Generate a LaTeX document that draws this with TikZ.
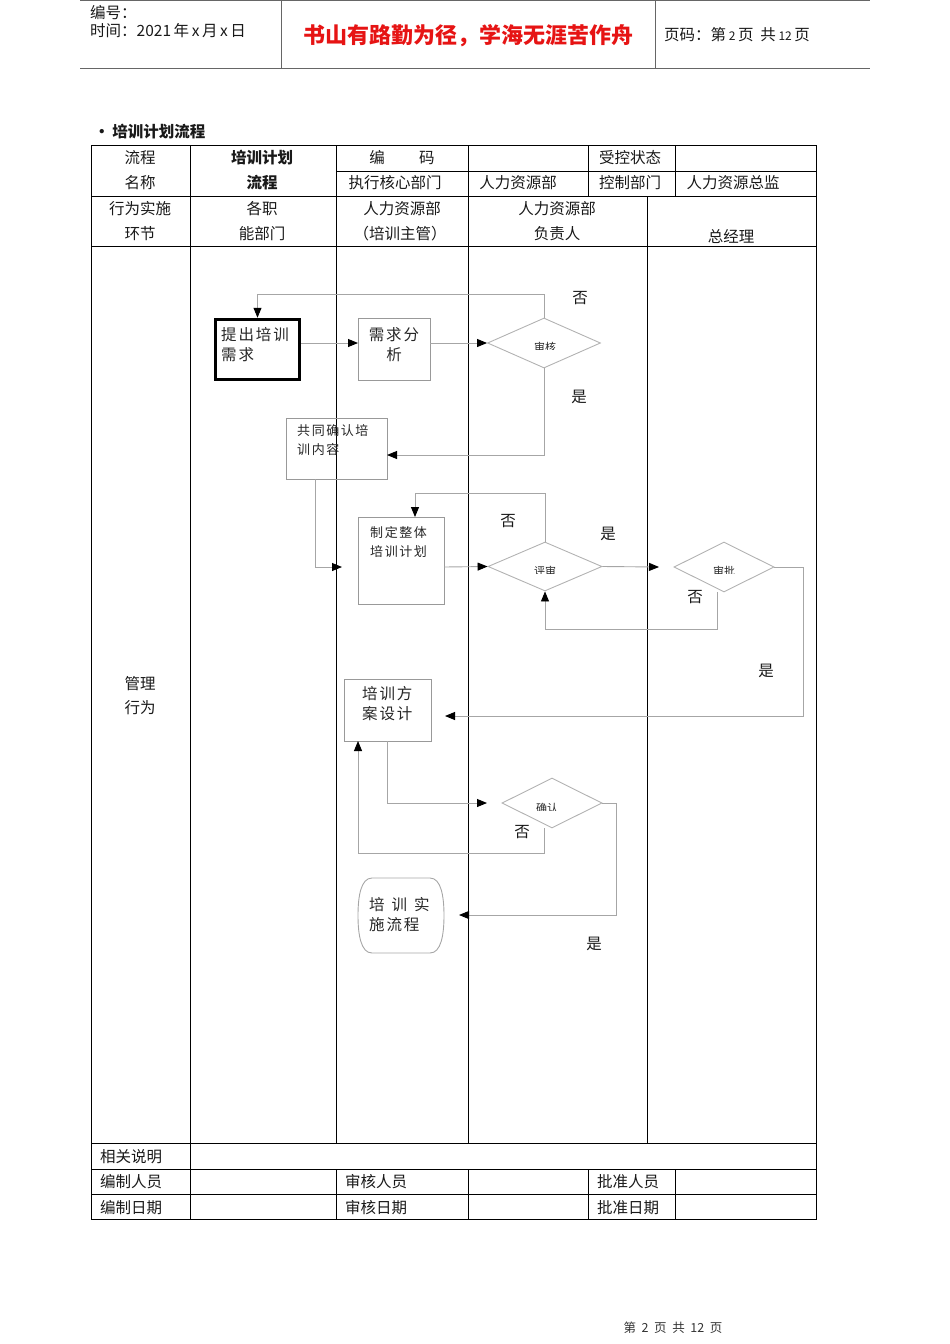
\documentclass[tikz,border=0pt]{standalone}
\usepackage{fontspec}
\setmainfont{Noto Sans CJK SC}
\newfontfamily\cjksp{Noto Sans CJK SC}[LetterSpace=12]
\usetikzlibrary{arrows.meta,shapes.geometric}
\tikzset{
  tline/.style={draw=black, line width=0.9pt},
  hline/.style={draw=black!60, line width=1pt},
  conn/.style={draw=black!35, line width=0.9pt},
  arr/.style={conn, -{Triangle[length=10pt,width=8pt,color=black]}},
  gbox/.style={draw=black!40, line width=0.9pt, inner sep=0, rectangle},
  dia/.style={diamond, draw=black!30, line width=0.9pt, inner sep=0},
  txt/.style={inner sep=0, font=\fontsize{15.5}{19}\selectfont, text=black!90},
  ltxt/.style={txt, anchor=west},
  btxt/.style={txt, font=\fontsize{15.5}{19}\selectfont\bfseries},
  stxt/.style={inner sep=0, font=\fontsize{13}{19}\selectfont\cjksp, text=black!85, align=left, anchor=north west},
  mtxt/.style={inner sep=0, font=\fontsize{15.5}{20}\selectfont\cjksp, text=black!85},
  dtxt/.style={inner sep=0, font=\fontsize{11}{12}\selectfont, text=black!85},
}
\begin{document}
\begin{tikzpicture}[x=1pt,y=-1pt]
\useasboundingbox (0,0) rectangle (950,1344);
% ---------- page header ----------
\draw[hline] (80,0.5) -- (870,0.5);
\draw[hline] (80,68) -- (870,68);
\draw[hline] (281,0) -- (281,68);
\draw[hline] (655,0) -- (655,68);
\node[ltxt] (h1) at (90,13) {编号：};
\node[ltxt] (h2) at (90,31) {时间：2021\,年\,x\,月\,x\,日};
\node[txt, font=\fontsize{22}{24}\selectfont\bfseries, text={rgb,255:red,230;green,20;blue,20}] (h3) at (468,36) {书山有路勤为径，学海无涯苦作舟};
\node[ltxt] (h4) at (664,35) {页码：第\,{\fontsize{12}{14}\selectfont 2}\,页\ \ 共\,{\fontsize{12}{14}\selectfont 12}\,页};
% ---------- title ----------
\node[ltxt, font=\fontsize{15.5}{19}\selectfont\bfseries] (title) at (94,132) {\textbullet\,培训计划流程};
% ---------- table frame ----------
\draw[tline] (91,145) rectangle (816,1219);
\draw[tline] (336,171) -- (816,171);
\draw[tline] (91,196) -- (816,196);
\draw[tline] (91,246) -- (816,246);
\draw[tline] (91,1143) -- (816,1143);
\draw[tline] (91,1169) -- (816,1169);
\draw[tline] (91,1194) -- (816,1194);
\draw[tline] (190,145) -- (190,1219);
\draw[tline] (336,145) -- (336,1143);
\draw[tline] (468,145) -- (468,1143);
\draw[tline] (588,145) -- (588,196);
\draw[tline] (675,145) -- (675,196);
\draw[tline] (647,196) -- (647,1143);
\draw[tline] (336,1169) -- (336,1219);
\draw[tline] (468,1169) -- (468,1219);
\draw[tline] (588,1169) -- (588,1219);
\draw[tline] (675,1169) -- (675,1219);
% ---------- table texts ----------
\node[txt] (t1) at (140,158) {流程};
\node[txt] (t2) at (140,183) {名称};
\node[btxt] (t3) at (262,158) {培训计划};
\node[btxt] (t4) at (262,183) {流程};
\node[txt] (t5) at (402,158) {编\hspace{2.2em}码};
\node[txt] (t6) at (630,158) {受控状态};
\node[txt] (t7) at (395,183) {执行核心部门};
\node[txt] (t8) at (518,183) {人力资源部};
\node[txt] (t9) at (630,183) {控制部门};
\node[txt] (t10) at (733,183) {人力资源总监};
\node[txt] (t11) at (140,209) {行为实施};
\node[txt] (t12) at (140,234) {环节};
\node[txt] (t13) at (262,209) {各职};
\node[txt] (t14) at (262,234) {能部门};
\node[txt] (t15) at (402,209) {人力资源部};
\node[txt] (t16) at (400,234) {（培训主管）};
\node[txt] (t17) at (557,209) {人力资源部};
\node[txt] (t18) at (557,234) {负责人};
\node[txt] (t19) at (731,237) {总经理};
\node[txt] (t20) at (140,684) {管理};
\node[txt] (t21) at (140,708) {行为};
\node[ltxt] (f1) at (100,1157) {相关说明};
\node[ltxt] (f2) at (100,1182) {编制人员};
\node[ltxt] (f3) at (100,1208) {编制日期};
\node[ltxt] (f4) at (345,1182) {审核人员};
\node[ltxt] (f5) at (345,1208) {审核日期};
\node[ltxt] (f6) at (597,1182) {批准人员};
\node[ltxt] (f7) at (597,1208) {批准日期};
% ---------- flow boxes ----------
\node[draw=black, line width=3.5pt, rectangle, inner sep=0, minimum width=84pt, minimum height=60pt] (b1) at (257.5,349.5) {};
\node[mtxt, anchor=north west, align=left] (b1t) at (221,327) {提出培训\\需求};
\node[gbox, minimum width=72pt, minimum height=62pt] (b2) at (394,349) {};
\node[mtxt, anchor=north, align=center] (b2t) at (394,327) {需求分\\析};
\node[gbox, minimum width=101pt, minimum height=61pt] (b3) at (336.5,448.5) {};
\node[stxt] (b3t) at (297,424) {共同确认培\\训内容};
\node[gbox, minimum width=86pt, minimum height=87pt] (b4) at (401,560.5) {};
\node[stxt] (b4t) at (370,526) {制定整体\\培训计划};
\node[gbox, minimum width=87pt, minimum height=62pt] (b5) at (387.5,710) {};
\node[mtxt, anchor=north west, align=left] (b5t) at (362,686) {培训方\\案设计};
\node[rectangle, inner sep=0, minimum width=86pt, minimum height=75pt] (b6) at (401,915.5) {};
\draw[draw=black!35, line width=0.9pt] (372,878) -- (430,878)
  .. controls (441,878) and (444,896) .. (444,915.5)
  .. controls (444,935) and (441,953) .. (430,953) -- (372,953)
  .. controls (361,953) and (358,935) .. (358,915.5)
  .. controls (358,896) and (361,878) .. (372,878) -- cycle;
\node[mtxt, anchor=north west, align=left] (b6t) at (369,897) {培\hspace{0.45em}训\hspace{0.45em}实\\施流程};
% ---------- diamonds ----------
\node[dia, minimum width=113pt, minimum height=50pt] (d1) at (544,343) {};
\node[dia, minimum width=114pt, minimum height=49pt] (d2) at (545,566.5) {};
\node[dia, minimum width=100pt, minimum height=50pt] (d3) at (724,567) {};
\node[dia, minimum width=100pt, minimum height=50pt] (d4) at (552,803) {};
\begin{scope}
\clip (515,330) rectangle (575,349);
\node[dtxt] (d1t) at (545,347.5) {审核};
\end{scope}
\begin{scope}
\clip (515,555) rectangle (575,573);
\node[dtxt] (d2t) at (545,571) {评审};
\end{scope}
\begin{scope}
\clip (695,555) rectangle (755,573);
\node[dtxt] (d3t) at (724,571) {审批};
\end{scope}
\begin{scope}
\clip (520,795) rectangle (580,810);
\node[dtxt] (d4t) at (547,808) {确认};
\end{scope}
% ---------- connector points ----------
\coordinate (p1) at (301,343);
\coordinate (p2) at (358,343);
\coordinate (p3) at (430,343);
\coordinate (p4) at (387,455);
\coordinate (p5) at (315,479);
\coordinate (p6) at (342,567);
\coordinate (p7) at (415,517);
\coordinate (p8) at (444,567);
\coordinate (p9) at (659,567);
\coordinate (p10) at (717,592);
\coordinate (p11) at (445,716);
\coordinate (p12) at (387,741);
\coordinate (p13) at (487,803);
\coordinate (p14) at (544,828);
\coordinate (p15) at (358,741);
\coordinate (p16) at (459,915);
\coordinate (q1) at (544,294);
\coordinate (q2) at (545,493);
\coordinate (q3) at (717,629);
\coordinate (q4) at (803,716);
\coordinate (q5) at (544,853);
\coordinate (q6) at (616,915);
% ---------- connectors ----------
\draw[arr] (d1.north) -- (q1) -| (b1.north);
\draw[arr] (p1) -- (p2);
\draw[arr] (p3) -- (d1.west);
\draw[arr] (d1.south) |- (p4);
\draw[arr] (p5) |- (p6);
\draw[arr] (d2.north) -- (q2) -| (p7);
\draw[arr] (p8) -- (d2.west);
\draw[arr] (d2.east) -- (p9);
\draw[arr] (p10) -- (q3) -| (d2.south);
\draw[arr] (d3.east) -| (q4) -- (p11);
\draw[arr] (p12) |- (p13);
\draw[arr] (p14) -- (q5) -| (p15);
\draw[arr] (d4.east) -| (q6) -- (p16);
% ---------- branch labels ----------
\node[txt] (l1) at (580,298) {否};
\node[txt] (l2) at (579,397) {是};
\node[txt] (l3) at (508,521) {否};
\node[txt] (l4) at (608,534) {是};
\node[txt] (l5) at (695,597) {否};
\node[txt] (l6) at (766,671) {是};
\node[txt] (l7) at (522,832) {否};
\node[txt] (l8) at (594,944) {是};
% ---------- page footer ----------
\node[txt, font=\fontsize{12.5}{14}\selectfont, text=black!80] (pg) at (673,1328) {第\ \ 2\ \ 页\ \ 共\ \ 12\ \ 页};
\end{tikzpicture}
\end{document}
